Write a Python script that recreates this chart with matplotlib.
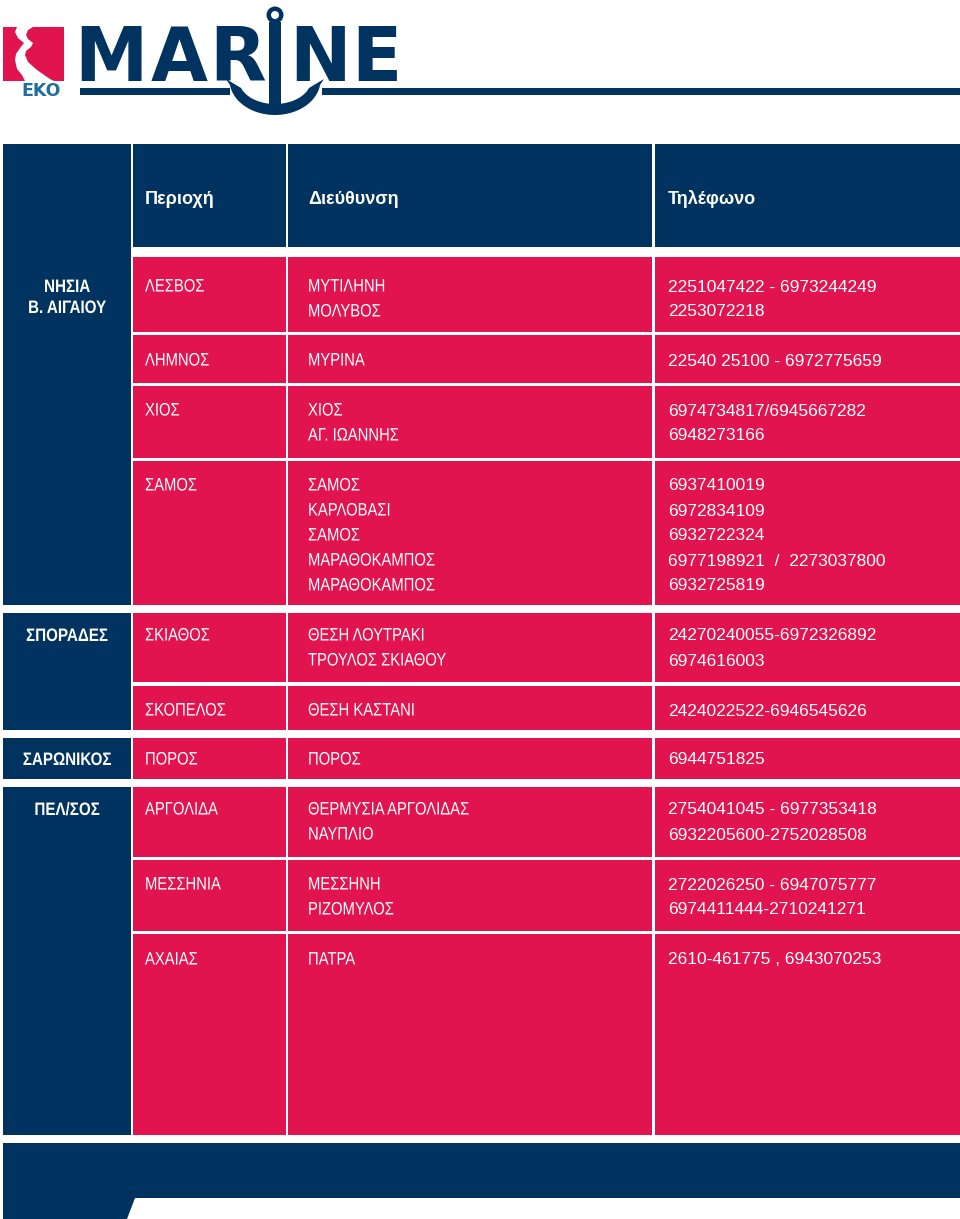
import matplotlib
matplotlib.use('Agg')
import matplotlib.pyplot as plt
import numpy as np
from matplotlib.patches import Rectangle, Polygon, Circle
from matplotlib.patheffects import AbstractPathEffect
from matplotlib.transforms import Affine2D

NAVY = '#00335f'
PINK = '#e1144f'
EKO_BLUE = '#1f6e9e'

# --- table content ---
headers = ['Περιοχή', 'Διεύθυνση', 'Τηλέφωνο']
groups = ['ΝΗΣΙΑ\nΒ. ΑΙΓΑΙΟΥ', 'ΣΠΟΡΑΔΕΣ', 'ΣΑΡΩΝΙΚΟΣ', 'ΠΕΛ/ΣΟΣ']
group_of_row = [0, 0, 0, 0, 1, 1, 2, 3, 3, 3]
areas = ['ΛΕΣΒΟΣ', 'ΛΗΜΝΟΣ', 'ΧΙΟΣ', 'ΣΑΜΟΣ', 'ΣΚΙΑΘΟΣ', 'ΣΚΟΠΕΛΟΣ',
         'ΠΟΡΟΣ', 'ΑΡΓΟΛΙΔΑ', 'ΜΕΣΣΗΝΙΑ', 'ΑΧΑΙΑΣ']
addresses = [
    ['ΜΥΤΙΛΗΝΗ', 'ΜΟΛΥΒΟΣ'],
    ['ΜΥΡΙΝΑ'],
    ['ΧΙΟΣ', 'ΑΓ. ΙΩΑΝΝΗΣ'],
    ['ΣΑΜΟΣ', 'ΚΑΡΛΟΒΑΣΙ', 'ΣΑΜΟΣ', 'ΜΑΡΑΘΟΚΑΜΠΟΣ', 'ΜΑΡΑΘΟΚΑΜΠΟΣ'],
    ['ΘΕΣΗ ΛΟΥΤΡΑΚΙ', 'ΤΡΟΥΛΟΣ ΣΚΙΑΘΟΥ'],
    ['ΘΕΣΗ ΚΑΣΤΑΝΙ'],
    ['ΠΟΡΟΣ'],
    ['ΘΕΡΜΥΣΙΑ ΑΡΓΟΛΙΔΑΣ', 'ΝΑΥΠΛΙΟ'],
    ['ΜΕΣΣΗΝΗ', 'ΡΙΖΟΜΥΛΟΣ'],
    ['ΠΑΤΡΑ'],
]
phones = [
    ['2251047422 - 6973244249', '2253072218'],
    ['22540 25100 - 6972775659'],
    ['6974734817/6945667282', '6948273166'],
    ['6937410019', '6972834109', '6932722324', '6977198921  /  2273037800', '6932725819'],
    ['24270240055-6972326892', '6974616003'],
    ['2424022522-6946545626'],
    ['6944751825'],
    ['2754041045 - 6977353418', '6932205600-2752028508'],
    ['2722026250 - 6947075777', '6974411444-2710241271'],
    ['2610-461775 , 6943070253'],
]
logo_letters = ['M', 'A', 'R', 'N', 'E']

# --- layout (pixels, y grows downwards) ---
row_top = [257, 335, 386, 461, 613, 686, 738, 787, 860, 934]
row_bottom = [332, 383, 458, 605, 682, 730, 779, 857, 931, 1135]
text_y = [285, 359, 409, 484, 634, 709, 758, 808, 883, 958]
col_x = [(3, 131), (133, 286), (288, 652), (655, 960)]
text_x = [145, 308, 668]
header_top, header_bottom = 144, 247
line_gap = 25
letter_cx = [111, 179, 238, 320, 376]

FONT = 'Liberation Sans'


class Squeeze(AbstractPathEffect):
    """Draw text glyphs compressed horizontally (condensed look)."""

    def __init__(self, sx, centre=False):
        super().__init__()
        self.sx = sx
        self.centre = centre

    def draw_path(self, renderer, gc, tpath, affine, rgbFace=None):
        c = 0.0
        if self.centre:
            ext = tpath.get_extents()
            c = (ext.x0 + ext.x1) / 2
        t = Affine2D().translate(-c, 0).scale(self.sx, 1).translate(c, 0)
        renderer.draw_path(gc, tpath, t + affine, rgbFace)


narrow = [Squeeze(0.82)]
narrow_c = [Squeeze(0.84, centre=True)]

fig = plt.figure(figsize=(9.6, 12.19), dpi=100)
ax = fig.add_axes([0, 0, 1, 1])
ax.set_xlim(0, 960)
ax.set_ylim(1219, 0)
ax.axis('off')


def rect(x0, x1, y0, y1, color):
    ax.add_patch(Rectangle((x0, y0), x1 - x0, y1 - y0, facecolor=color,
                           edgecolor='none'))


# --- logo ---
rect(3, 64, 27, 81, PINK)
left_edge = [(17, 27), (15, 32), (18, 38), (24, 43), (20, 48), (16, 54),
             (15, 60), (17, 69), (22, 75), (25, 81)]
right_edge = [(33, 27), (28, 30), (26, 35), (28, 39), (33, 43), (31, 47),
              (26, 51), (25, 55), (28, 62), (37, 70), (50, 79), (54, 81)]
ax.add_patch(Polygon(left_edge + right_edge[::-1], closed=True,
                     facecolor='white', edgecolor='none'))
ax.text(41, 96, 'EKO', color=EKO_BLUE, fontsize=12.5, fontweight='bold',
        family='DejaVu Sans', ha='center', va='baseline')

for ch, cx in zip(logo_letters, letter_cx):
    ax.text(cx, 81, ch, color=NAVY, fontsize=53, fontweight='bold',
            family='DejaVu Sans', ha='center', va='baseline')

# bar and anchor
rect(80, 230, 88, 95, NAVY)
rect(322, 960, 88, 95, NAVY)
rect(269, 281, 22, 110, NAVY)
ax.add_patch(Circle((275, 15), 8.5, facecolor=NAVY, edgecolor='none'))
ax.add_patch(Circle((275, 15), 4, facecolor='white', edgecolor='none'))
t_out = np.linspace(0.143, np.pi - 0.143, 40)
t_in = np.linspace(np.pi - 0.34, 0.34, 40)
outer = np.column_stack([275 + 45.5 * np.cos(t_out), 80 + 35 * np.sin(t_out)])
inner = np.column_stack([275 + 36 * np.cos(t_in), 80 + 24 * np.sin(t_in)])
arm = np.vstack([outer, [[226, 79]], inner, [[324, 79]]])
ax.add_patch(Polygon(arm, closed=True, facecolor=NAVY, edgecolor='none'))

# --- header ---
rect(col_x[1][0], col_x[3][1], header_top, header_bottom, NAVY)
for i in (1, 2):
    rect(col_x[i][1], col_x[i + 1][0], header_top, header_bottom, 'white')
for h, x in zip(headers, text_x):
    ax.text(x, 204, h, color='white', fontsize=13, fontweight='bold',
            family=FONT, ha='left', va='baseline')

# --- group column ---
for g, label in enumerate(groups):
    rows = [r for r, gr in enumerate(group_of_row) if gr == g]
    top = header_top if g == 0 else row_top[rows[0]]
    rect(col_x[0][0], col_x[0][1], top, row_bottom[rows[-1]], NAVY)
    for k, line in enumerate(label.split('\n')):
        ax.text(67, text_y[rows[0]] + 7 + k * 21, line, color='white',
                fontsize=13, fontweight='bold', family=FONT,
                ha='center', va='baseline', path_effects=narrow_c)

# --- rows ---
for r in range(len(areas)):
    for c in (1, 2, 3):
        rect(col_x[c][0], col_x[c][1], row_top[r], row_bottom[r], PINK)
    base = text_y[r] + 6.5
    ax.text(text_x[0], base, areas[r], color='white', fontsize=13,
            family=FONT, ha='left', va='baseline', path_effects=narrow)
    for k, line in enumerate(addresses[r]):
        ax.text(text_x[1], base + k * line_gap, line, color='white',
                fontsize=13, family=FONT, ha='left', va='baseline',
                path_effects=narrow)
    for k, line in enumerate(phones[r]):
        ax.text(text_x[2], base + k * line_gap, line, color='white',
                fontsize=12.5, family=FONT, ha='left', va='baseline')

# --- footer ---
footer = [(3, 1143), (960, 1143), (960, 1198), (135, 1198), (127, 1219),
          (3, 1219)]
ax.add_patch(Polygon(footer, closed=True, facecolor=NAVY, edgecolor='none'))

fig.savefig('out.png', dpi=100, facecolor='white')
